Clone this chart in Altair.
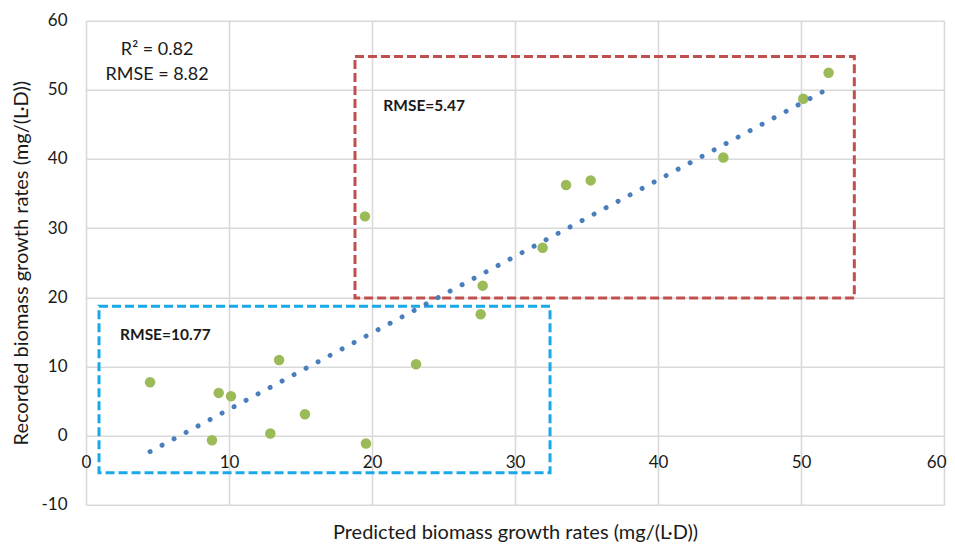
import altair as alt
import pandas as pd

# Predicted vs recorded biomass growth rates (mg/(L·D))
pred = [4.48, 9.28, 10.14, 8.81, 12.89, 13.50, 15.31, 19.58, 23.08, 27.60,
        27.74, 19.51, 31.93, 33.57, 35.29, 44.57, 50.16, 51.93]
rec = [7.71, 6.17, 5.69, -0.67, 0.29, 10.93, 3.08, -1.16, 10.31, 17.54,
       21.68, 31.70, 27.17, 36.23, 36.90, 40.22, 48.71, 52.46]

# Highlighted regions (data coordinates)
box_name = ["high", "low"]
box_x1 = [18.81, 0.91]
box_x2 = [53.73, 32.45]
box_y1 = [19.90, -5.39]
box_y2 = [54.82, 18.69]
box_color = ["#C0504D", "#1AA9E8"]

# Annotations
summary_text = ["R² = 0.82", "RMSE = 8.82"]
summary_x = [4.97, 4.97]
summary_y = [55.07, 51.45]

region_text = ["RMSE=5.47", "RMSE=10.77"]
region_x = [20.79, 2.38]
region_y = [47.0, 13.87]

x_ticks = [0, 10, 20, 30, 40, 50, 60]
y_ticks = [-10, 0, 10, 20, 30, 40, 50, 60]

FONT = "Lato"
TXT = "#1a1a1a"

df = pd.DataFrame({"pred": pred, "rec": rec})
boxes = pd.DataFrame({"name": box_name, "x1": box_x1, "x2": box_x2,
                      "y1": box_y1, "y2": box_y2})
summary = pd.DataFrame({"t": summary_text, "x": summary_x, "y": summary_y})
regions = pd.DataFrame({"t": region_text, "x": region_x, "y": region_y})

xs = alt.Scale(domain=[0, 60], nice=False, zero=False)
ys = alt.Scale(domain=[-10, 60], nice=False, zero=False)

xaxis = alt.Axis(values=x_ticks, title="Predicted biomass growth rates (mg/(L·D))",
                 grid=True, domain=False, ticks=False, tickSize=0,
                 labelPadding=-50, labelFlush=False, labelFontSize=17,
                 labelAlign={"condition": {"test": "datum.value == 60", "value": "right"},
                             "value": "center"},
                 labelOffset={"condition": {"test": "datum.value == 60", "value": 2},
                              "value": 0},
                 labelFont=FONT, labelColor=TXT, titleFont=FONT, titleFontSize=20,
                 titleFontWeight="normal", titleColor=TXT, titleY=34,
                 titleBaseline="alphabetic", labelExpr="'' + datum.value")
yaxis = alt.Axis(values=y_ticks, title="Recorded biomass growth rates (mg/(L·D))",
                 grid=True, domain=False, ticks=False, tickSize=0,
                 labelPadding=19, labelFontSize=17, labelFont=FONT, labelColor=TXT,
                 titleFont=FONT, titleFontSize=20, titleFontWeight="normal",
                 titleColor=TXT, titleX=-59, titleY=242, titleBaseline="alphabetic",
                 titleAlign="center", titleAngle=270, labelExpr="'' + datum.value")

box_layer = alt.Chart(boxes).mark_rect(fillOpacity=0, strokeWidth=3,
                                       strokeDash=[9, 4]).encode(
    x=alt.X("x1:Q", scale=xs, axis=xaxis),
    x2="x2:Q",
    y=alt.Y("y1:Q", scale=ys, axis=yaxis),
    y2="y2:Q",
    stroke=alt.Stroke("name:N", scale=alt.Scale(domain=box_name, range=box_color),
                      legend=None),
)

points = alt.Chart(df).mark_circle(size=110, color="#9BBB59", opacity=1).encode(
    x=alt.X("pred:Q", scale=xs),
    y=alt.Y("rec:Q", scale=ys),
)

trend = alt.Chart(df).transform_regression("pred", "rec").mark_line(
    color="#4A7EBB", strokeWidth=5, strokeDash=[0.01, 13.6], strokeCap="round"
).encode(
    x=alt.X("pred:Q", scale=xs),
    y=alt.Y("rec:Q", scale=ys),
)

summary_layer = alt.Chart(summary).mark_text(
    align="center", baseline="alphabetic", font=FONT, fontSize=18, color=TXT
).encode(x=alt.X("x:Q", scale=xs), y=alt.Y("y:Q", scale=ys), text="t:N")

region_layer = alt.Chart(regions).mark_text(
    align="left", baseline="alphabetic", font=FONT, fontSize=15.5,
    fontWeight="bold", color=TXT
).encode(x=alt.X("x:Q", scale=xs), y=alt.Y("y:Q", scale=ys), text="t:N")

chart = alt.layer(box_layer, points, trend, summary_layer, region_layer).properties(
    width=858, height=484,
    autosize=alt.AutoSizeParams(type="none"),
    padding={"left": 78, "top": 12.7, "right": 3, "bottom": 41},
).configure_view(stroke=None).configure_axis(
    gridColor="#D9D9D9", gridWidth=1.6
)

chart.save("out.html", embed_options={"renderer": "svg", "actions": False})
